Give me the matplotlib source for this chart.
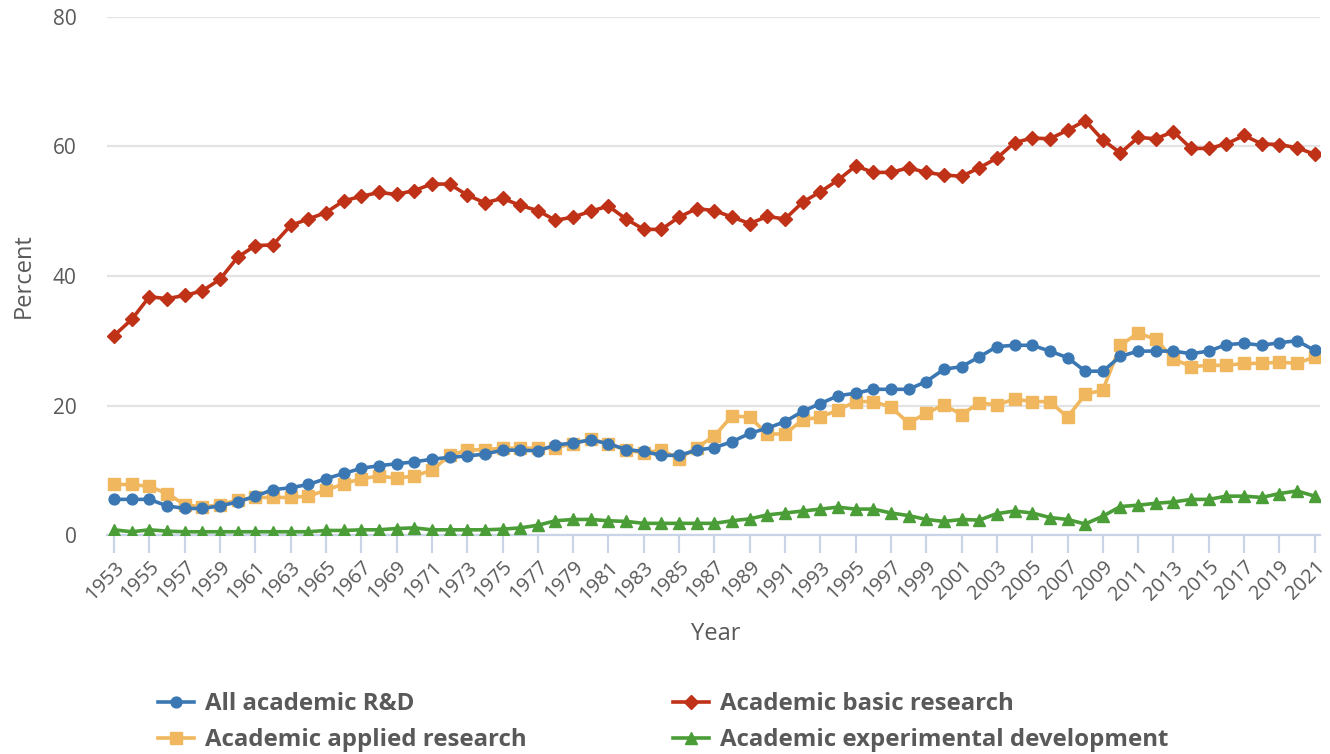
import matplotlib
matplotlib.use("Agg")
import matplotlib.pyplot as plt
from matplotlib.lines import Line2D

plt.rcParams['font.family'] = ['Open Sans', 'DejaVu Sans']

years = list(range(1953, 2022))

all_rd = [5.5, 5.5, 5.5, 4.5, 4.1, 4.1, 4.5, 5.1, 6.0, 7.0,
          7.3, 7.8, 8.7, 9.5, 10.3, 10.7, 11.0, 11.3, 11.7, 12.0,
          12.2, 12.5, 13.1, 13.1, 13.0, 13.9, 14.2, 14.7, 14.1, 13.2,
          12.9, 12.3, 12.3, 13.1, 13.5, 14.4, 15.7, 16.5, 17.5, 19.1,
          20.3, 21.5, 21.9, 22.5, 22.5, 22.5, 23.7, 25.6, 26.0, 27.5,
          29.1, 29.3, 29.3, 28.4, 27.4, 25.3, 25.3, 27.6, 28.4, 28.4,
          28.4, 28.0, 28.4, 29.4, 29.6, 29.3, 29.7, 30.0, 28.5]

basic = [30.8, 33.3, 36.8, 36.5, 37.0, 37.7, 39.5, 42.9, 44.7, 44.8,
         47.8, 48.8, 49.8, 51.6, 52.3, 52.9, 52.6, 53.2, 54.2, 54.2,
         52.5, 51.3, 52.0, 50.9, 50.1, 48.6, 49.1, 50.0, 50.8, 48.8,
         47.2, 47.2, 49.1, 50.4, 50.1, 49.1, 48.1, 49.2, 48.8, 51.4,
         53.0, 54.8, 57.0, 56.0, 56.0, 56.7, 56.0, 55.6, 55.4, 56.7,
         58.2, 60.6, 61.3, 61.2, 62.5, 64.0, 61.0, 59.0, 61.4, 61.2,
         62.3, 59.7, 59.7, 60.4, 61.7, 60.4, 60.3, 59.8, 58.8]

applied = [7.8, 7.8, 7.5, 6.4, 4.7, 4.3, 4.7, 5.4, 5.8, 5.8,
           5.8, 6.0, 6.9, 7.9, 8.7, 9.1, 8.8, 9.1, 10.0, 12.3,
           13.1, 13.2, 13.4, 13.4, 13.4, 13.5, 14.1, 14.8, 14.1, 13.1,
           12.7, 13.1, 11.8, 13.5, 15.3, 18.4, 18.2, 15.6, 15.6, 17.8,
           18.2, 19.3, 20.6, 20.6, 19.75, 17.3, 18.8, 20.1, 18.6, 20.4,
           20.1, 21.0, 20.6, 20.6, 18.2, 21.7, 22.4, 29.3, 31.2, 30.2,
           27.2, 26.0, 26.2, 26.2, 26.5, 26.5, 26.7, 26.5, 27.5]

experimental = [0.8, 0.5, 0.8, 0.6, 0.5, 0.5, 0.5, 0.5, 0.5, 0.5,
                0.5, 0.5, 0.7, 0.7, 0.8, 0.8, 1.0, 1.1, 0.8, 0.8,
                0.8, 0.8, 0.9, 1.1, 1.5, 2.2, 2.4, 2.4, 2.2, 2.1,
                1.8, 1.8, 1.8, 1.8, 1.8, 2.2, 2.5, 3.1, 3.4, 3.7,
                4.0, 4.3, 4.0, 4.0, 3.4, 3.0, 2.4, 2.1, 2.4, 2.3,
                3.3, 3.7, 3.4, 2.7, 2.4, 1.7, 2.9, 4.4, 4.6, 4.9,
                5.1, 5.5, 5.5, 6.0, 6.0, 5.8, 6.4, 6.8, 6.0]

series_labels = ["All academic R&D", "Academic basic research",
                 "Academic applied research", "Academic experimental development"]

C_BLUE = "#3b78b3"
C_RED = "#bf3218"
C_ORANGE = "#f0b75e"
C_GREEN = "#4a9d37"
TXT = "#595959"
AXC = "#c9d4e8"

fig = plt.figure(figsize=(13.3, 7.54), dpi=100)
L, R, T, B = 107, 1320, 17, 535
ax = fig.add_axes([L / 1330, 1 - B / 754, (R - L) / 1330, (B - T) / 754])

lw = 2.6
ax.plot(years, all_rd, color=C_BLUE, lw=lw, marker='o', ms=7.8, zorder=3)
ax.plot(years, basic, color=C_RED, lw=lw, marker='D', ms=7.2, zorder=3)
ax.plot(years, applied, color=C_ORANGE, lw=lw, marker='s', ms=8.2, zorder=2)
ax.plot(years, experimental, color=C_GREEN, lw=lw, marker='^', ms=9.2, zorder=3)

ax.set_xlim(1952.6, 2021.3)
ax.set_ylim(0, 80)
ax.set_yticks([0, 20, 40, 60, 80])
ax.set_xticks(years[::2])
ax.set_xticklabels([str(y) for y in years[::2]], rotation=45, ha='right',
                   va='top', rotation_mode='anchor')
ax.grid(axis='y', color='#e3e3e3', lw=1.6)
ax.set_axisbelow(True)
for s in ['top', 'right', 'left']:
    ax.spines[s].set_visible(False)
ax.spines['bottom'].set_color(AXC)
ax.spines['bottom'].set_linewidth(1.6)
ax.tick_params(axis='x', colors=AXC, length=13, width=1.6, labelcolor=TXT,
               labelsize=14.5, pad=3)
ax.tick_params(axis='y', length=0, labelcolor=TXT, labelsize=15, pad=22)

ax.set_ylabel("Percent", fontsize=17, color=TXT)
ax.yaxis.set_label_coords(-0.059, 0.5)
ax.set_xlabel("Year", fontsize=17, color=TXT)
ax.xaxis.set_label_coords(0.502, -0.168)

handles = [
    Line2D([], [], color=C_BLUE, lw=lw, marker='o', ms=7.8),
    Line2D([], [], color=C_ORANGE, lw=lw, marker='s', ms=8.2),
    Line2D([], [], color=C_RED, lw=lw, marker='D', ms=7.2),
    Line2D([], [], color=C_GREEN, lw=lw, marker='^', ms=9.2),
]
labels = [series_labels[0], series_labels[2], series_labels[1], series_labels[3]]
leg = fig.legend(handles, labels, loc='upper left', bbox_to_anchor=(158 / 1330, 1 - 692 / 754),
                 ncol=2, frameon=False, fontsize=17.3, handlelength=1.5,
                 handletextpad=0.45, columnspacing=6.1, labelspacing=0.5,
                 borderaxespad=0, borderpad=0)
for t in leg.get_texts():
    t.set_color(TXT)
    t.set_fontweight('bold')

fig.savefig("out.png", dpi=100)
